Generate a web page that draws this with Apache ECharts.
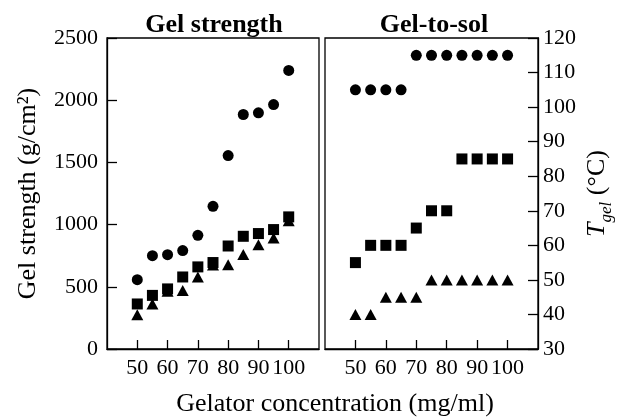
<!DOCTYPE html>
<html>
<head>
<meta charset="utf-8">
<script src="https://cdn.jsdelivr.net/npm/echarts@6/dist/echarts.min.js"></script>
<style>html,body{margin:0;padding:0;background:#fff}#c{width:617px;height:418px}</style>
</head>
<body>
<div id="c"></div>
<script>
var concentration = [50, 55, 60, 65, 70, 75, 80, 85, 90, 95, 100];
var strengthCircle = [557, 750, 758, 791, 914, 1147, 1555, 1885, 1899, 1965, 2239];
var strengthSquare = [362, 431, 483, 579, 660, 695, 828, 906, 928, 960, 1062];
var strengthTriangle = [276, 362, 465, 471, 579, 675, 678, 759, 839, 893, 1030];
var tgelCircle = [105, 105, 105, 105, 115, 115, 115, 115, 115, 115, 115];
var tgelSquare = [55, 60, 60, 60, 65, 70, 70, 85, 85, 85, 85];
var tgelTriangle = [40, 40, 45, 45, 45, 50, 50, 50, 50, 50, 50];

var FONT = '"Liberation Serif", "Times New Roman", serif';
function pairs(ys) { return concentration.map(function (x, i) { return [x, ys[i]]; }); }
function plain(v) { return String(v); }

var chart = echarts.init(document.getElementById('c'), null, { renderer: 'canvas' });
var lineStyle = { color: '#000', width: 1.3 };
function xAx(gi) {
  return {
    type: 'value', gridIndex: gi, min: 40, max: 110, interval: 10,
    axisLine: { show: true, onZero: false, lineStyle: lineStyle },
    axisTick: { show: true, inside: true, length: 9, lineStyle: lineStyle },
    splitLine: { show: false },
    axisLabel: { showMinLabel: false, showMaxLabel: false, fontFamily: FONT, fontSize: 22, color: '#000', margin: 8, formatter: plain }
  };
}
function ser(gi, data, symbol, size) {
  return {
    type: 'scatter', xAxisIndex: gi, yAxisIndex: gi, data: pairs(data),
    symbol: symbol, symbolSize: size, itemStyle: { color: '#000', opacity: 1 }, silent: true
  };
}
function txt(text, x, y, weight) {
  return {
    type: 'text', x: x, y: y, silent: true,
    style: { text: text, fontFamily: FONT, fontSize: 26, fontWeight: weight, fill: '#000', textAlign: 'center', textVerticalAlign: 'middle' }
  };
}
chart.setOption({
  animation: false,
  grid: [
    { left: 107, top: 38, width: 212, height: 311, show: true, borderColor: '#000', borderWidth: 1.3, backgroundColor: 'transparent', containLabel: false, outerBoundsMode: 'none' },
    { left: 325, top: 38, width: 213, height: 311, show: true, borderColor: '#000', borderWidth: 1.3, backgroundColor: 'transparent', containLabel: false, outerBoundsMode: 'none' }
  ],
  xAxis: [xAx(0), xAx(1)],
  yAxis: [
    {
      type: 'value', gridIndex: 0, min: 0, max: 2500, interval: 500, position: 'left',
      axisLine: { show: true, lineStyle: lineStyle },
      axisTick: { show: true, inside: true, length: 10, lineStyle: lineStyle },
      splitLine: { show: false },
      axisLabel: { fontFamily: FONT, fontSize: 22, color: '#000', margin: 9, formatter: plain },
      name: 'Gel strength (g/cm²)', nameLocation: 'middle', nameGap: 66,
      nameTextStyle: { fontFamily: FONT, fontSize: 26, color: '#000' }
    },
    {
      type: 'value', gridIndex: 1, min: 30, max: 120, interval: 10, position: 'right',
      axisLine: { show: true, lineStyle: lineStyle },
      axisTick: { show: true, inside: true, length: 10, lineStyle: lineStyle },
      splitLine: { show: false },
      axisLabel: { fontFamily: FONT, fontSize: 22, color: '#000', margin: 5, formatter: plain },
      name: '{t|T}{s|gel} {n|(°C)}', nameLocation: 'middle', nameGap: 45, nameRotate: 90,
      nameTextStyle: {
        fontFamily: FONT, fontSize: 26, color: '#000',
        rich: {
          t: { fontFamily: FONT, fontSize: 26, fontStyle: 'italic', color: '#000', verticalAlign: 'middle', lineHeight: 28 },
          s: { fontFamily: FONT, fontSize: 17, fontStyle: 'italic', color: '#000', verticalAlign: 'bottom', lineHeight: 28, padding: [0, 0, -4, 0] },
          n: { fontFamily: FONT, fontSize: 26, color: '#000', verticalAlign: 'middle', lineHeight: 28 }
        }
      }
    }
  ],
  graphic: [
    txt('Gel strength', 214, 25, 'bold'),
    txt('Gel-to-sol', 434, 25, 'bold'),
    txt('Gelator concentration (mg/ml)', 335, 404, 'normal')
  ],
  series: [
    ser(0, strengthTriangle, 'triangle', [12, 11]),
    ser(0, strengthSquare, 'rect', 11),
    ser(0, strengthCircle, 'circle', 11),
    ser(1, tgelTriangle, 'triangle', [12, 11]),
    ser(1, tgelSquare, 'rect', 11),
    ser(1, tgelCircle, 'circle', 11)
  ]
});
</script>
</body>
</html>
